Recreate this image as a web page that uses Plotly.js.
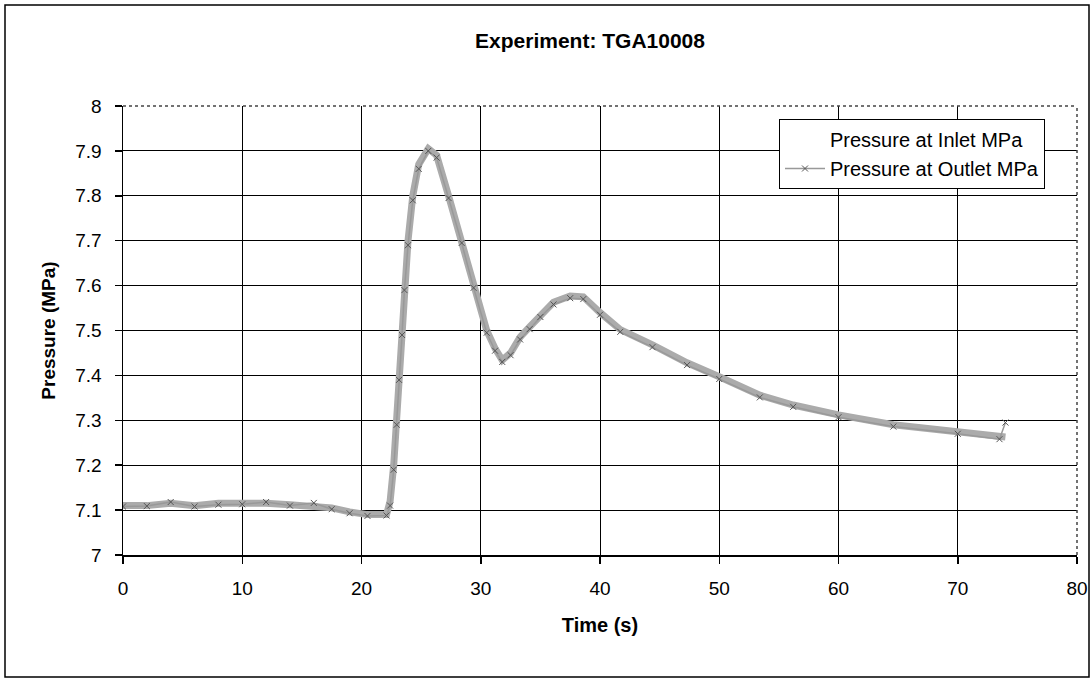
<!DOCTYPE html>
<html>
<head>
<meta charset="utf-8">
<script src="https://cdn.plot.ly/plotly-3.0.1.min.js"></script>
<style>
html,body{margin:0;padding:0;background:#fff;}
#chart{width:1091px;height:679px;}
</style>
</head>
<body>
<div id="chart"></div>
<script>
// Time (s)
const timeIn = [0, 2, 4, 6, 8, 10, 12, 14, 16, 17.5, 19, 20.5, 22.1, 22.4, 22.7, 22.95, 23.15, 23.4, 23.6, 23.9, 24.3, 24.8, 25.6, 26.3, 27.3, 28.4, 29.4, 30.5, 31.2, 31.8, 32.5, 33.3, 34.1, 35, 36.1, 37.5, 38.6, 40, 41.7, 44.4, 47.3, 50, 53.4, 56.2, 60, 64.6, 70, 74];
const pressureInlet = [7.11, 7.11, 7.115, 7.11, 7.115, 7.116, 7.115, 7.112, 7.11, 7.105, 7.096, 7.09, 7.09, 7.12, 7.2, 7.3, 7.4, 7.5, 7.6, 7.7, 7.8, 7.87, 7.905, 7.89, 7.8, 7.7, 7.6, 7.5, 7.46, 7.434, 7.45, 7.485, 7.508, 7.535, 7.563, 7.577, 7.575, 7.54, 7.502, 7.468, 7.428, 7.397, 7.356, 7.334, 7.312, 7.29, 7.274, 7.263];

const timeOut = [0, 2, 4, 6, 8, 10, 12, 14, 16, 17.5, 19, 20.5, 22.1, 22.4, 22.7, 22.95, 23.15, 23.4, 23.6, 23.9, 24.3, 24.8, 25.6, 26.3, 27.3, 28.4, 29.4, 30.5, 31.2, 31.8, 32.5, 33.3, 34.1, 35, 36.1, 37.5, 38.6, 40, 41.7, 44.4, 47.3, 50, 53.4, 56.2, 60, 64.6, 70, 73.5, 74];
const pressureOutlet = [7.108, 7.109, 7.118, 7.108, 7.112, 7.113, 7.118, 7.11, 7.116, 7.102, 7.093, 7.087, 7.088, 7.11, 7.19, 7.29, 7.39, 7.49, 7.59, 7.69, 7.79, 7.86, 7.9, 7.885, 7.795, 7.695, 7.595, 7.495, 7.455, 7.43, 7.445, 7.48, 7.503, 7.53, 7.558, 7.572, 7.57, 7.535, 7.497, 7.463, 7.423, 7.392, 7.351, 7.33, 7.307, 7.286, 7.27, 7.258, 7.295];

const xTicks = [0, 10, 20, 30, 40, 50, 60, 70, 80];
const yTicks = [7, 7.1, 7.2, 7.3, 7.4, 7.5, 7.6, 7.7, 7.8, 7.9, 8];
const yTickText = ['7', '7.1', '7.2', '7.3', '7.4', '7.5', '7.6', '7.7', '7.8', '7.9', '8'];

const FONT = 'Arial, "Liberation Sans", sans-serif';

const traces = [
  {x: [null], y: [null], type: 'scatter', mode: 'lines', name: 'Pressure at Inlet MPa',
   line: {color: 'rgba(0,0,0,0)', width: 1}, hoverinfo: 'skip'},
  {x: timeIn, y: pressureInlet, type: 'scatter', mode: 'lines', name: 'Pressure at Inlet MPa',
   showlegend: false, line: {color: '#ababab', width: 7}},
  {x: timeOut, y: pressureOutlet, type: 'scatter', mode: 'lines+markers', name: 'Pressure at Outlet MPa',
   line: {color: '#999', width: 1.5},
   marker: {symbol: 'x-thin-open', size: 6, color: '#555', line: {color: '#555', width: 1}}}
];

const L = 123, R = 14, T = 106, B = 124;
const W = 1091, H = 679;
const pw = W - L - R, ph = H - T - B;
const px = v => (v - L) / pw;
const py = v => (H - B - v) / ph;

const layout = {
  width: W, height: H,
  margin: {l: L, r: R, t: T, b: B, pad: 0},
  paper_bgcolor: '#ffffff',
  plot_bgcolor: '#ffffff',
  font: {family: FONT, color: '#000', size: 19},
  title: {text: '<b>Experiment: TGA10008</b>', font: {family: FONT, size: 21, color: '#000'},
          x: 590 / W, xanchor: 'center', y: 1 - 41 / H, yanchor: 'middle', xref: 'container', yref: 'container'},
  xaxis: {
    range: [0, 80], tickvals: xTicks, ticktext: xTicks.map(String),
    showgrid: true, gridcolor: '#000', gridwidth: 1,
    showline: true, linecolor: '#000', linewidth: 1.5,
    ticks: 'outside', ticklen: 7, tickcolor: '#000', tickwidth: 1.5,
    tickfont: {family: FONT, size: 19, color: '#000'},
    ticklabelstandoff: 9,
    zeroline: false,
    title: {text: '<b>Time (s)</b>', font: {family: FONT, size: 20, color: '#000'}, standoff: 19}
  },
  yaxis: {
    range: [7, 8], tickvals: yTicks, ticktext: yTickText,
    showgrid: true, gridcolor: '#000', gridwidth: 1,
    showline: true, linecolor: '#000', linewidth: 1.5,
    ticks: 'outside', ticklen: 7, tickcolor: '#000', tickwidth: 1.5,
    tickfont: {family: FONT, size: 19, color: '#000'},
    ticklabelstandoff: 9,
    zeroline: false,
    title: {text: '<b>Pressure (MPa)</b>', font: {family: FONT, size: 19, color: '#000'}, standoff: 14}
  },
  legend: {
    x: px(779), y: py(119), xanchor: 'left', yanchor: 'top',
    bgcolor: '#ffffff', bordercolor: '#000', borderwidth: 1,
    font: {family: FONT, size: 20, color: '#000'},
    tracegroupgap: 0, itemwidth: 40
  },
  showlegend: true,
  shapes: [
    {type: 'rect', xref: 'paper', yref: 'paper', x0: px(5), x1: px(1089), y0: py(677), y1: py(5),
     line: {color: '#000', width: 1.5}, layer: 'below'},
    {type: 'line', xref: 'paper', yref: 'paper', x0: 0, x1: 1, y0: 1, y1: 1,
     line: {color: '#444', width: 1.5, dash: 'dot'}},
    {type: 'line', xref: 'paper', yref: 'paper', x0: 1, x1: 1, y0: 0, y1: 1,
     line: {color: '#444', width: 1.5, dash: 'dot'}}
  ]
};

Plotly.newPlot('chart', traces, layout, {displayModeBar: false, staticPlot: true});
</script>
</body>
</html>
